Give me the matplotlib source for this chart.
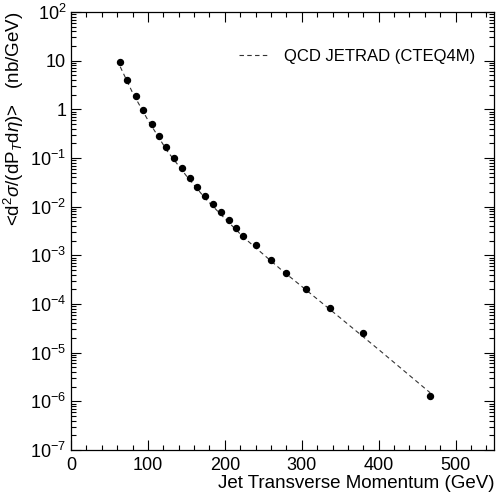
import matplotlib
matplotlib.use("Agg")
import matplotlib.pyplot as plt
from matplotlib.ticker import FixedLocator, FixedFormatter, MultipleLocator, LogLocator, NullFormatter

# Data
pt_data = [64, 73, 84, 94, 105, 114, 124, 134, 144, 155, 164, 174, 184, 195,
           205, 214, 224, 240, 260, 280, 306, 337, 379, 467]
xsec_data = [9.2, 4.05, 1.87, 0.96, 0.50, 0.285, 0.169, 0.100, 0.0617, 0.0384,
             0.0254, 0.0165, 0.0116, 0.00774, 0.00532, 0.00365, 0.00254, 0.00163,
             0.00080, 0.00044, 0.000203, 8.24e-5, 2.48e-5, 1.27e-6]

pt_theory = [64, 80, 100, 125, 150, 175, 200, 225, 250, 275, 300, 350, 400, 467]
xsec_theory = [7.5, 2.2, 0.6, 0.14, 0.043, 0.0145, 0.0057, 0.0023, 0.00105,
               0.00048, 0.00023, 5.2e-5, 1.16e-5, 1.5e-6]

legend_label = "QCD JETRAD (CTEQ4M)"
xlabel = "Jet Transverse Momentum (GeV)"
ylabel = r"<d$^2\sigma$/(dP$_T$d$\eta$)>   (nb/GeV)"
ytick_vals = [1e2, 1e1, 1e0, 1e-1, 1e-2, 1e-3, 1e-4, 1e-5, 1e-6, 1e-7]
ytick_labels = [r"$10^{2}$", "10", "1", r"$10^{-1}$", r"$10^{-2}$", r"$10^{-3}$",
                r"$10^{-4}$", r"$10^{-5}$", r"$10^{-6}$", r"$10^{-7}$"]
xtick_vals = [0, 100, 200, 300, 400, 500]

plt.rcParams['font.family'] = ['Liberation Sans', 'DejaVu Sans']
plt.rcParams['mathtext.fontset'] = 'custom'
plt.rcParams['mathtext.rm'] = 'Liberation Sans'
plt.rcParams['mathtext.it'] = 'Liberation Sans:italic'

fig = plt.figure(figsize=(4.98, 4.96), dpi=100)
ax = fig.add_axes([0.1426, 0.0927, 0.8494, 0.8831])

ax.plot(pt_theory, xsec_theory, linestyle=(0, (4, 3)), color='#333333',
        linewidth=0.8, label=legend_label)
ax.plot(pt_data, xsec_data, 'o', color='black', markersize=4.3, linestyle='none')

ax.set_yscale('log')
ax.set_xlim(0, 550)
ax.set_ylim(1e-7, 1e2)

ax.yaxis.set_major_locator(FixedLocator(ytick_vals))
ax.yaxis.set_major_formatter(FixedFormatter(ytick_labels))
ax.yaxis.set_minor_locator(LogLocator(base=10, subs=range(2, 10), numticks=20))
ax.yaxis.set_minor_formatter(NullFormatter())
ax.xaxis.set_major_locator(FixedLocator(xtick_vals))
ax.xaxis.set_minor_locator(MultipleLocator(20))

ax.tick_params(which='both', direction='in', top=True, right=True, width=0.8)
ax.tick_params(which='major', length=7, labelsize=13)
ax.tick_params(which='minor', length=3.5)
ax.tick_params(axis='x', pad=5)
for s in ax.spines.values():
    s.set_linewidth(0.9)

ax.set_xlabel(xlabel, fontsize=13.5, loc='right', labelpad=1)
ax.set_ylabel(ylabel, fontsize=13.5, loc='top', labelpad=3)

leg = ax.legend(loc='upper right', bbox_to_anchor=(0.99, 0.95), frameon=False,
                fontsize=12, handlelength=1.9, handletextpad=0.8)

fig.savefig("out.png", dpi=100)
